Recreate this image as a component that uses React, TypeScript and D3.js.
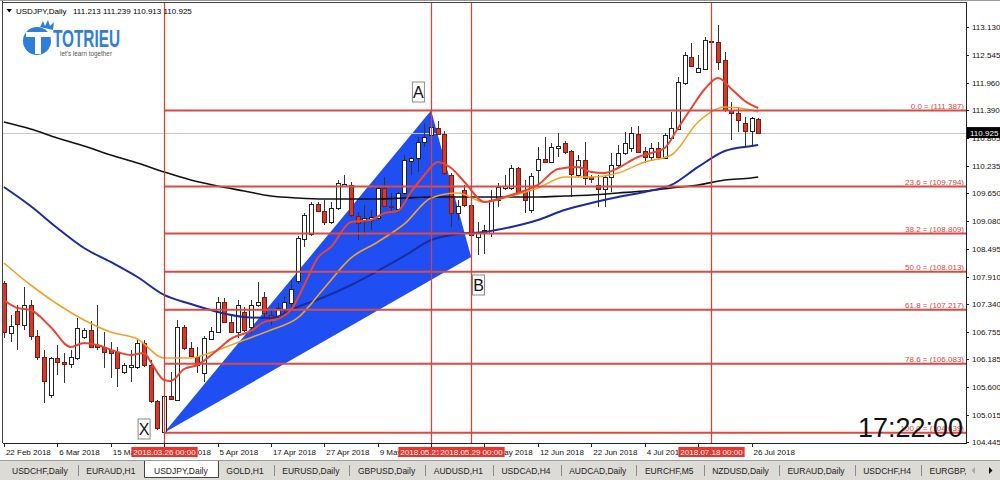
import React from "react";
import * as d3 from "d3";

// ---------------- data ----------------
const symbolTitle = "USDJPY,Daily";
const ohlcTitle = "111.213 111.239 110.913 110.925";
const clockText = "17:22:00";
const lastPrice = 110.925;

const opens = [
  107.775, 106.728, 107.189, 106.896, 107.315, 106.666, 106.226, 105.43, 106.205, 106.121,
  106.079, 106.205, 106.645, 106.791, 106.477, 106.435, 106.372, 106.33, 105.912, 106.016,
  106.016, 106.519, 106.058, 105.304, 104.655, 105.409, 105.325, 106.854, 106.414, 106.226,
  105.891, 106.603, 106.749, 107.378, 106.959, 106.749, 107.168, 106.854, 107.315, 107.482,
  107.105, 107.063, 107.21, 107.357, 107.817, 108.697, 108.802, 109.43, 109.283, 109.053,
  109.346, 109.807, 109.828, 109.179, 109.074, 109.095, 109.137, 109.765, 109.388, 109.325,
  109.66, 110.33, 110.393, 110.728, 110.875, 111.021, 110.896, 110.037, 109.241, 109.723,
  109.409, 108.739, 108.823, 108.823, 109.514, 109.765, 109.765, 110.184, 109.681, 109.304,
  110.142, 110.372, 110.309, 110.603, 110.707, 110.54, 110.037, 110.351, 109.995, 109.828,
  109.744, 109.995, 110.247, 110.498, 110.603, 110.896, 110.54, 110.414, 110.603, 110.393,
  110.812, 111.0, 111.964, 112.508, 112.194, 112.257, 112.843, 112.822, 112.446, 111.398,
  111.336, 111.126, 110.959, 111.213,
];
const highs = [
  107.817, 107.105, 107.315, 107.692, 107.419, 106.791, 106.372, 106.226, 106.477, 106.31,
  106.372, 107.042, 106.833, 106.98, 107.315, 106.749, 106.54, 106.435, 106.1, 106.372,
  106.582, 106.582, 106.163, 105.325, 105.43, 105.912, 107.001, 106.896, 106.54, 106.435,
  106.666, 106.854, 107.482, 107.461, 107.105, 107.419, 107.273, 107.419, 107.796, 107.587,
  107.21, 107.357, 107.503, 107.838, 108.76, 109.241, 109.472, 109.472, 109.514, 109.472,
  109.932, 110.037, 109.891, 109.262, 109.409, 109.304, 109.786, 109.995, 109.66, 109.681,
  110.456, 110.414, 110.833, 111.126, 111.387, 111.168, 110.959, 110.079, 109.514, 109.828,
  109.451, 109.053, 108.99, 109.723, 109.87, 110.037, 110.247, 110.205, 109.932, 110.079,
  110.623, 110.833, 110.707, 110.917, 110.749, 110.561, 110.456, 110.728, 110.037, 110.037,
  110.037, 110.498, 110.665, 110.938, 111.042, 111.063, 110.623, 110.707, 110.728, 110.917,
  111.357, 112.089, 112.613, 112.802, 112.55, 112.927, 112.885, 113.178, 112.613, 111.566,
  111.461, 111.252, 111.252, 111.239,
];
const lows = [
  106.624, 106.54, 106.372, 106.791, 106.582, 106.163, 105.262, 105.367, 105.849, 105.681,
  105.995, 106.163, 106.603, 106.414, 106.372, 105.995, 105.786, 105.597, 105.87, 105.702,
  105.974, 106.016, 105.262, 104.697, 104.637, 105.325, 105.304, 106.372, 106.226, 105.891,
  105.702, 106.582, 106.728, 106.938, 106.728, 106.624, 106.749, 106.728, 107.273, 107.063,
  106.896, 107.001, 107.126, 107.252, 107.755, 108.529, 108.76, 109.262, 108.99, 109.011,
  109.304, 109.786, 109.158, 108.676, 108.781, 108.885, 109.095, 109.367, 109.262, 109.241,
  109.618, 110.037, 110.1, 110.623, 110.833, 110.875, 110.037, 108.948, 109.095, 109.367,
  108.739, 108.362, 108.383, 108.739, 109.367, 109.723, 109.723, 109.66, 109.241, 109.241,
  109.786, 110.288, 110.288, 110.414, 110.477, 109.576, 109.995, 109.828, 109.87, 109.367,
  109.367, 109.681, 110.205, 110.456, 110.519, 110.498, 110.288, 110.351, 110.351, 110.372,
  110.77, 110.979, 111.922, 112.299, 112.173, 112.236, 112.781, 112.236, 111.357, 110.77,
  110.938, 110.644, 110.623, 110.913,
];
const closes = [
  106.749, 106.875, 106.917, 107.315, 106.666, 106.226, 105.723, 106.205, 106.121, 106.079,
  106.226, 106.833, 106.791, 106.435, 106.435, 106.33, 106.31, 105.995, 106.058, 106.058,
  106.519, 106.058, 105.304, 104.739, 105.409, 105.346, 106.854, 106.414, 106.247, 106.058,
  106.624, 106.77, 107.378, 106.959, 106.749, 107.315, 106.791, 107.315, 107.378, 107.147,
  107.001, 107.252, 107.378, 107.65, 108.718, 109.2, 109.43, 109.283, 109.053, 109.346,
  109.87, 109.849, 109.2, 109.032, 109.137, 109.158, 109.765, 109.388, 109.367, 109.66,
  110.351, 110.393, 110.728, 110.833, 111.042, 110.896, 110.079, 109.241, 109.388, 109.409,
  108.781, 108.844, 108.885, 109.514, 109.786, 109.807, 110.184, 109.681, 109.514, 110.016,
  110.372, 110.309, 110.623, 110.644, 110.519, 110.058, 110.351, 109.974, 109.953, 109.744,
  109.995, 110.247, 110.498, 110.707, 110.917, 110.519, 110.414, 110.603, 110.414, 110.875,
  111.021, 111.985, 112.55, 112.32, 112.278, 112.864, 112.822, 112.404, 111.398, 111.336,
  111.189, 110.959, 111.231, 110.925,
];

const dateTickIdx = [0, 8, 16, 24, 32, 40, 48, 56, 64, 72, 80, 88, 96, 104, 112];
const dateTickLabels = [
  "22 Feb 2018", "6 Mar 2018", "15 Mar 2018", "26 Mar 2018", "5 Apr 2018", "17 Apr 2018",
  "27 Apr 2018", "9 May 2018", "21 May 2018", "31 May 2018", "12 Jun 2018", "22 Jun 2018",
  "4 Jul 2018", "16 Jul 2018", "26 Jul 2018",
];

const priceTicks = [
  113.13, 112.545, 111.96, 111.39, 110.805, 110.235, 109.65, 109.08, 108.495, 107.91,
  107.34, 106.755, 106.185, 105.6, 105.015, 104.445,
];

// moving averages (at sample bars)
const maSampleIdx = [0, 4, 8, 12, 16, 20, 24, 28, 32, 36, 40, 44, 48, 52, 56, 60, 64, 68, 72, 76, 80, 84, 88, 92, 96, 100, 104, 108, 112, 113];
const maSlow200 = [111.147, 111.0, 110.812, 110.644, 110.456, 110.288, 110.1, 109.932, 109.807, 109.702, 109.597, 109.555, 109.534, 109.534, 109.534, 109.555, 109.576, 109.576, 109.576, 109.576, 109.576, 109.597, 109.618, 109.66, 109.702, 109.765, 109.828, 109.932, 109.974, 109.995];
const maMid50 = [109.786, 109.388, 108.927, 108.508, 108.215, 107.901, 107.524, 107.335, 107.168, 107.063, 107.042, 107.273, 107.482, 107.733, 108.027, 108.341, 108.676, 108.802, 108.844, 108.948, 109.095, 109.304, 109.451, 109.576, 109.681, 109.828, 110.205, 110.54, 110.644, 110.665];
const maFast20 = [108.194, 107.733, 107.335, 107.001, 106.749, 106.603, 106.205, 106.205, 106.372, 106.582, 106.791, 107.042, 107.671, 108.299, 108.634, 109.011, 109.555, 109.66, 109.472, 109.597, 109.765, 109.995, 109.995, 110.079, 110.309, 110.456, 111.147, 111.461, 111.398, 111.357];
const maFast10Idx = [0, 2, 4, 7, 10, 12, 14, 17, 19, 21, 22, 24, 25, 27, 29, 32, 34, 37, 39, 41, 43, 45, 47, 49, 52, 55, 57, 59, 61, 63, 65, 67, 69, 72, 75, 77, 80, 83, 86, 88, 90, 92, 95, 97, 99, 101, 103, 105, 107, 109, 111, 113];
const maFast10 = [107.419, 107.252, 107.21, 106.854, 106.435, 106.519, 106.477, 106.33, 106.268, 106.31, 106.121, 105.744, 105.723, 105.974, 106.058, 106.372, 106.603, 106.77, 106.959, 107.021, 107.21, 107.733, 108.299, 108.529, 109.053, 109.095, 109.241, 109.283, 109.681, 110.037, 110.309, 110.184, 109.891, 109.472, 109.576, 109.66, 109.828, 110.163, 110.205, 110.1, 110.079, 110.184, 110.414, 110.498, 110.603, 111.021, 111.44, 111.838, 112.068, 111.838, 111.587, 111.44];

// Fibonacci retracement
const fibStartIdx = 24;
const fibLevels = ["0.0", "23.6", "38.2", "50.0", "61.8", "78.6", "100.0"];
const fibPrices = [111.387, 109.794, 108.809, 108.013, 107.217, 106.083, 104.639];

// XAB pattern
const patternIdx = [24, 64, 70];
const patternPrice = [104.639, 111.387, 108.32];
const patternNames = ["X", "A", "B"];
const patternLabelIdx = [21.0, 62.1, 71.1];
const patternLabelPrice = [104.718, 111.775, 107.733];

// vertical lines
const vlineIdx = [24, 64, 70, 106];
const vlineLabels = ["2018.03.26 00:00", "2018.05.21 00:00", "2018.05.29 00:00", "2018.07.18 00:00"];

const tabs = [
  "USDCHF,Daily", "EURAUD,H1", "USDJPY,Daily", "GOLD,H1", "EURUSD,Daily", "GBPUSD,Daily",
  "AUDUSD,H1", "USDCAD,H4", "AUDCAD,Daily", "EURCHF,M5", "NZDUSD,Daily", "EURAUD,Daily",
  "USDCHF,H4", "EURGBP,H4",
];
const activeTab = "USDJPY,Daily";

// ---------------- helpers ----------------
const FONT = "'Liberation Sans', Arial, sans-serif";
let measureCtx: CanvasRenderingContext2D | null = null;
function textW(s: string, size: number): number {
  try {
    if (!measureCtx) measureCtx = document.createElement("canvas").getContext("2d");
    if (measureCtx) {
      measureCtx.font = `${size}px ${FONT}`;
      return measureCtx.measureText(s).width;
    }
  } catch (e) {}
  return s.length * size * 0.55;
}

export default function App() {
  const W = 1000, H = 480;
  const plotL = 3, plotR = 966, plotT = 3, plotB = 443;
  const x = d3.scaleLinear().domain([0, 113]).range([3.9, 3.9 + 113 * 6.675]);
  const y = d3.scaleLinear().domain([104.445, 113.13]).range([442.0, 27.3]);

  const bars = opens.map((o, i) => ({ i, o, h: highs[i], l: lows[i], c: closes[i] }));

  const line = d3
    .line<[number, number]>()
    .x((d) => x(d[0]))
    .y((d) => y(d[1]))
    .curve(d3.curveMonotoneX);

  const ma200Path = line(maSampleIdx.map((k, j) => [k, maSlow200[j]] as [number, number]));
  const ma50Path = line(maSampleIdx.map((k, j) => [k, maMid50[j]] as [number, number]));
  const ma20Path = line(maSampleIdx.map((k, j) => [k, maFast20[j]] as [number, number]));
  const ma10Path = line(maFast10Idx.map((k, j) => [k, maFast10[j]] as [number, number]));

  const tri = patternIdx.map((k, j) => `${x(k)},${y(patternPrice[j])}`).join(" ");

  const fibColor = "#dc4a44";
  const bearFill = "#d23a2c";

  // tab layout
  const tabFont = 8.5;
  let cursor = 12;
  const tabItems = tabs.map((t) => {
    const w = textW(t, tabFont);
    const item = { t, x: cursor, w, active: t === activeTab };
    cursor += w + 18.6;
    return item;
  });

  const lastY = y(lastPrice);

  return (
    <svg
      width={W}
      height={H}
      viewBox={`0 0 ${W} ${H}`}
      style={{ position: "absolute", left: 0, top: 0, display: "block", background: "#fff" }}
      fontFamily={FONT}
    >
      <defs>
        <clipPath id="plot">
          <rect x={plotL} y={plotT} width={plotR - plotL} height={plotB - plotT} />
        </clipPath>
        <clipPath id="tabclip">
          <rect x={0} y={458} width={966} height={22} />
        </clipPath>
      </defs>
      <rect x={0} y={0} width={W} height={H} fill="#fff" />

      {/* outer frame */}
      <line x1={0} y1={0.5} x2={W} y2={0.5} stroke="#9a9a9a" />
      <line x1={2.5} y1={1} x2={2.5} y2={plotB} stroke="#444" />
      <line x1={plotL} y1={2.5} x2={plotR} y2={2.5} stroke="#444" />

      <g clipPath="url(#plot)">
        {/* pattern triangle */}
        <polygon points={tri} fill="#1f4ff2" />

        {/* current price line */}
        <line x1={plotL} x2={plotR} y1={Math.round(lastY) + 0.5} y2={Math.round(lastY) + 0.5} stroke="#c8c8c8" />

        {/* candles */}
        <g shapeRendering="crispEdges">
          {bars.map((b) => {
            const cx = Math.round(x(b.i)) + 0.5;
            const up = b.c >= b.o;
            const top = Math.round(y(Math.max(b.o, b.c)));
            const bot = Math.round(y(Math.min(b.o, b.c)));
            return (
              <g key={b.i}>
                <line x1={cx} x2={cx} y1={y(b.h)} y2={y(b.l)} stroke="#333" strokeWidth={1} />
                <rect
                  x={cx - 2}
                  y={top + 0.5}
                  width={4}
                  height={Math.max(1, bot - top)}
                  fill={up ? "#fff" : bearFill}
                  stroke={up ? "#222" : "#7a1a12"}
                  strokeWidth={1}
                />
              </g>
            );
          })}
        </g>

        {/* moving averages */}
        <path d={ma200Path || ""} fill="none" stroke="#111" strokeWidth={1.6} />
        <path d={ma50Path || ""} fill="none" stroke="#1a2d9e" strokeWidth={2} />
        <path d={ma20Path || ""} fill="none" stroke="#f5a02a" strokeWidth={1.6} />
        <path d={ma10Path || ""} fill="none" stroke="#ec4430" strokeWidth={2} />

        {/* fibonacci levels */}
        {fibPrices.map((p, j) => (
          <line
            key={"fl" + j}
            x1={x(fibStartIdx)}
            x2={plotR}
            y1={y(p)}
            y2={y(p)}
            stroke={fibColor}
            strokeWidth={2}
          />
        ))}

        {/* vertical lines */}
        {vlineIdx.map((k, j) => (
          <line
            key={"vl" + j}
            x1={Math.round(x(k)) + 0.5}
            x2={Math.round(x(k)) + 0.5}
            y1={0}
            y2={plotB}
            stroke="#ea3a32"
            strokeWidth={1.2}
          />
        ))}

        {/* fib labels */}
        {fibPrices.map((p, j) => (
          <text
            key={"ft" + j}
            x={plotR - 2}
            y={y(p) - 2}
            textAnchor="end"
            fontSize={8}
            fill="#e0443e"
          >
            {`${fibLevels[j]} = (${p.toFixed(3)})`}
          </text>
        ))}

        {/* pattern labels */}
        {patternNames.map((n, j) => {
          const cx = x(patternLabelIdx[j]);
          const cy = y(patternLabelPrice[j]);
          return (
            <g key={"pl" + j}>
              <rect x={cx - 6} y={cy - 10} width={12} height={20} fill="none" stroke="#8a8a8a" strokeWidth={1} />
              <text x={cx} y={cy + 6} textAnchor="middle" fontSize={16} fill="#111">
                {n}
              </text>
            </g>
          );
        })}

        {/* clock */}
        <text x={963} y={437} textAnchor="end" fontSize={27} fill="#111">
          {clockText}
        </text>
      </g>

      {/* logo */}
      <g>
        <path d="M40,27 L43,21 L45,26 L48,20 L50,26 L54,22 L53,30 Z" fill="#2f7fd8" />
        <circle cx={37} cy={41} r={14} fill="#2f7fd8" />
        <rect x={26} y={32} width={28} height={5} fill="#fff" />
        <rect x={35} y={32} width={6} height={22} fill="#fff" />
        <text
          x={53}
          y={47}
          fontSize={24}
          fontWeight="bold"
          fill="#2f7fd8"
          textLength={67}
          lengthAdjust="spacingAndGlyphs"
        >
          TOTRIEU
        </text>
        <text x={60} y={56} fontSize={7} fill="#555" textLength={52} lengthAdjust="spacingAndGlyphs">
          let's learn together
        </text>
      </g>

      {/* title */}
      <path d="M6.5,9 L12,9 L9.25,12.5 Z" fill="#000" />
      <text x={16} y={14} fontSize={8} fill="#000">
        {symbolTitle}
      </text>
      <text x={73} y={14} fontSize={8} fill="#000">
        {ohlcTitle}
      </text>

      {/* axes lines */}
      <line x1={plotR + 0.5} x2={plotR + 0.5} y1={2} y2={plotB + 0.5} stroke="#222" />
      <line x1={plotL} x2={plotR + 1} y1={plotB + 0.5} y2={plotB + 0.5} stroke="#222" />

      {/* price axis */}
      {priceTicks.map((p, j) => (
        <g key={"pt" + j}>
          <line x1={plotR} x2={plotR + 3} y1={Math.round(y(p)) + 0.5} y2={Math.round(y(p)) + 0.5} stroke="#222" />
          <text x={972} y={y(p) + 3} fontSize={8} fill="#111">
            {p.toFixed(3)}
          </text>
        </g>
      ))}
      <rect x={967} y={lastY - 5.5} width={33} height={11} fill="#000" />
      <text x={970} y={lastY + 3} fontSize={8} fill="#fff">
        {lastPrice.toFixed(3)}
      </text>

      {/* time axis */}
      {dateTickIdx.map((k, j) => (
        <g key={"dt" + j}>
          <line x1={Math.round(x(k)) + 0.5} x2={Math.round(x(k)) + 0.5} y1={plotB} y2={plotB + 4} stroke="#222" />
          <text x={x(k) + 2} y={455} fontSize={8} fill="#111">
            {dateTickLabels[j]}
          </text>
        </g>
      ))}
      {vlineIdx.map((k, j) => {
        const w = textW(vlineLabels[j], 8) + 4;
        const cx = Math.round(x(k)) + 0.5;
        return (
          <g key={"vlab" + j}>
            <rect x={cx - w / 2} y={447} width={w} height={10} fill="#e8352e" />
            <text x={cx} y={455} textAnchor="middle" fontSize={8} fill="#fff">
              {vlineLabels[j]}
            </text>
          </g>
        );
      })}

      {/* tab bar */}
      <rect x={0} y={460} width={W} height={20} fill="#dddbd6" />
      <line x1={0} x2={W} y1={460.5} y2={460.5} stroke="#9c9c9c" />
      <g clipPath="url(#tabclip)">
        {tabItems.map((t, j) => {
          const next = tabItems[j + 1];
          const showSep = next && !t.active && !next.active;
          return (
            <g key={"tab" + j}>
              {t.active && (
                <g>
                  <rect x={t.x - 10} y={461} width={t.w + 20} height={17} fill="#fff" />
                  <path
                    d={`M${Math.round(t.x - 10) + 0.5},461 V477.5 H${Math.round(t.x + t.w + 10) + 0.5} V461`}
                    fill="none"
                    stroke="#444"
                  />
                </g>
              )}
              <text x={t.x} y={474} fontSize={tabFont} fill="#222">
                {t.t}
              </text>
              {showSep && (
                <line
                  x1={Math.round(t.x + t.w + 10) + 0.5}
                  x2={Math.round(t.x + t.w + 10) + 0.5}
                  y1={465}
                  y2={476}
                  stroke="#8a8a8a"
                />
              )}
            </g>
          );
        })}
      </g>
      <path d="M975,467 L975,474 L971.5,470.5 Z" fill="#aaa" />
      <path d="M989,467 L989,474 L992.5,470.5 Z" fill="#111" />
    </svg>
  );
}
